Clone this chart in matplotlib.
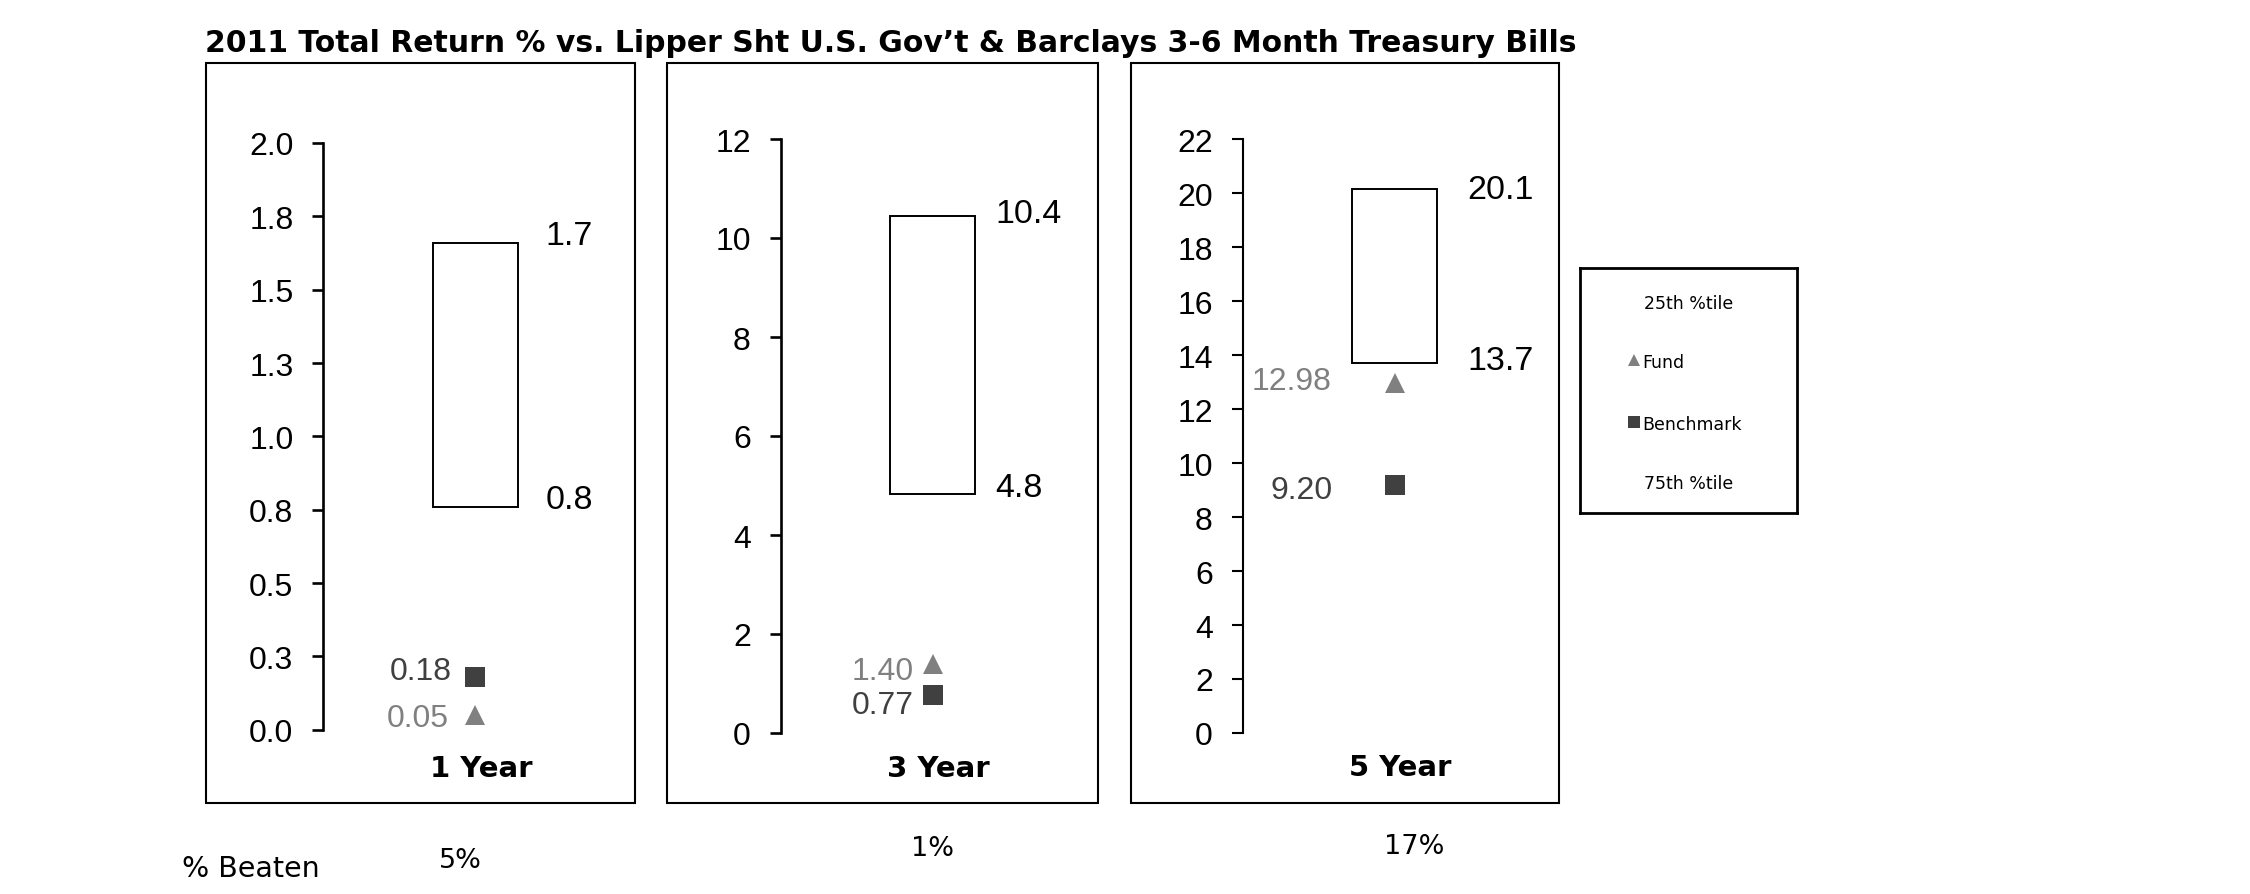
import matplotlib
matplotlib.use("Agg")
import matplotlib.pyplot as plt
from matplotlib.patches import Rectangle
from matplotlib import font_manager as fm
import numpy as np

# ---------------- data ----------------
categories = ["1 Year", "3 Year", "5 Year"]
pct_25 = [1.66, 10.44, 20.14]      # top of box (25th %tile)
pct_75 = [0.76, 4.83, 13.70]       # bottom of box (75th %tile)
fund = [0.05, 1.40, 12.98]
benchmark = [0.18, 0.77, 9.20]
pct_beaten = ["5%", "1%", "17%"]
y_max = [2.0, 12, 22]
y_step = [0.25, 2, 2]
ytick_labels_1 = ["0.0", "0.3", "0.5", "0.8", "1.0", "1.3", "1.5", "1.8", "2.0"]
title = "2011 Total Return % vs. Lipper Sht U.S. Gov\u2019t & Barclays 3-6 Month Treasury Bills"
legend_labels = ["25th %tile", "Fund", "Benchmark", "75th %tile"]

# ---------------- style ----------------
W, H = 2250, 895
FUND_C = "#808080"
BENCH_C = "#404040"
names = {f.name for f in fm.fontManager.ttflist}
NARROW = "Liberation Sans Narrow" if "Liberation Sans Narrow" in names else "Liberation Sans"

fig = plt.figure(figsize=(W / 100, H / 100), dpi=100)
fig.patch.set_facecolor("white")

def fx(x):
    return x / W

def fy(y):
    return 1 - y / H

# panel frames (pixel layout)
frames = [(205.7, 635.0), (667.0, 1097.7), (1130.7, 1559.3)]
for x0, x1 in frames:
    fig.add_artist(Rectangle((fx(x0), fy(804.3)), fx(x1) - fx(x0), fy(64.3) - fy(804.3),
                             transform=fig.transFigure, fill=False, edgecolor="black", lw=1.5))

# axes layout: (spine x, top y, bottom y) in pixels
layout = [(323.3, 144, 730.7), (780.7, 140, 734), (1242.7, 140, 734)]
axw = 304
box_w = 0.56
# label offsets (pixels)
box_lab_dx = [28, 20, 30]
box_lab_dy_top = [11, 6, 3]
box_lab_dy_bot = [11, 10, 6.5]
fund_off = [(-27, 1), (-19, -4), (-63, 5.5)]
bench_off = [(-24, 9), (-19, -6.6), (-62, -2.4)]
cat_off = [(6, -46), (6, -43), (5, -42)]
pct_off = [(-15, -137), (0, -122), (19, -120)]

for i in range(3):
    sx, ty, by = layout[i]
    ax = fig.add_axes([fx(sx), fy(by), axw / W, (by - ty) / H])
    ax.set_xlim(0, 2)
    ax.set_ylim(0, y_max[i])
    ticks = np.arange(0, y_max[i] + y_step[i] / 2, y_step[i])
    ax.set_yticks(ticks)
    if i == 0:
        ax.set_yticklabels(ytick_labels_1)
    else:
        ax.set_yticklabels([f"{t:g}" for t in ticks])
    ax.set_xticks([])
    for s in ["top", "right", "bottom"]:
        ax.spines[s].set_visible(False)
    ax.spines["left"].set_linewidth(1.9 if i < 2 else 1.5)
    ax.tick_params(axis="y", direction="out", length=8, width=1.9 if i < 2 else 1.5,
                   pad=13.5, labelsize=23)
    for lab in ax.get_yticklabels():
        lab.set_fontfamily(NARROW)
    ax.patch.set_alpha(0)

    # box between 75th and 25th percentile
    ax.bar([1], [pct_25[i] - pct_75[i]], bottom=[pct_75[i]], width=box_w,
           fill=False, edgecolor="black", linewidth=1.4)
    ax.plot([1], [fund[i]], marker="^", ms=15, mew=0, color=FUND_C, ls="none", clip_on=False)
    ax.plot([1], [benchmark[i]], marker="s", ms=15, mew=0, color=BENCH_C, ls="none", clip_on=False)

    right = 1 + box_w / 2
    ax.annotate(f"{pct_25[i]:.1f}", xy=(right, pct_25[i]), xytext=(box_lab_dx[i], box_lab_dy_top[i]),
                textcoords="offset pixels", ha="left", va="center_baseline",
                fontsize=24.5, family=NARROW, color="black", annotation_clip=False)
    ax.annotate(f"{pct_75[i]:.1f}", xy=(right, pct_75[i]), xytext=(box_lab_dx[i], box_lab_dy_bot[i]),
                textcoords="offset pixels", ha="left", va="center_baseline",
                fontsize=24.5, family=NARROW, color="black", annotation_clip=False)
    ax.annotate(f"{fund[i]:.2f}", xy=(1, fund[i]), xytext=fund_off[i],
                textcoords="offset pixels", ha="right", va="center_baseline",
                fontsize=23, family=NARROW, color=FUND_C, annotation_clip=False)
    ax.annotate(f"{benchmark[i]:.2f}", xy=(1, benchmark[i]), xytext=bench_off[i],
                textcoords="offset pixels", ha="right", va="center_baseline",
                fontsize=23, family=NARROW, color=BENCH_C, annotation_clip=False)
    ax.annotate(categories[i], xy=(1, 0), xycoords=("data", "axes fraction"), xytext=cat_off[i],
                textcoords="offset pixels", ha="center", va="baseline",
                fontsize=21, fontweight="bold", family="DejaVu Sans", color="black",
                annotation_clip=False)
    ax.annotate(pct_beaten[i], xy=(1, 0), xycoords=("data", "axes fraction"), xytext=pct_off[i],
                textcoords="offset pixels", ha="center", va="baseline",
                fontsize=19.5, family="DejaVu Sans", color="black", annotation_clip=False)

# title and row label
fig.text(fx(205), fy(51.7), title, ha="left", va="baseline", fontsize=21.5,
         fontweight="bold", family="DejaVu Sans")
fig.text(fx(181.7), fy(876.7), "% Beaten", ha="left", va="baseline", fontsize=20.5,
         family="DejaVu Sans")

# legend box
lx0, lx1, ly0, ly1 = 1580, 1797, 269, 514
lax = fig.add_axes([fx(lx0), fy(ly1), (lx1 - lx0) / W, (ly1 - ly0) / H])
lax.set_xlim(0, 1)
lax.set_ylim(0, 1)
lax.set_xticks([])
lax.set_yticks([])
for s in lax.spines.values():
    s.set_linewidth(2.0)
lsize = 12.5
lax.text(0.50, 0.867, legend_labels[0], ha="center", va="center_baseline", fontsize=lsize)
lax.plot([0.249], [0.626], marker="^", ms=9, mew=0, color=FUND_C, ls="none")
lax.text(0.288, 0.626, legend_labels[1], ha="left", va="center_baseline", fontsize=lsize)
lax.plot([0.249], [0.373], marker="s", ms=8, mew=0, color=BENCH_C, ls="none")
lax.text(0.288, 0.373, legend_labels[2], ha="left", va="center_baseline", fontsize=lsize)
lax.text(0.50, 0.129, legend_labels[3], ha="center", va="center_baseline", fontsize=lsize)

fig.savefig("out.png", dpi=100, facecolor="white")
